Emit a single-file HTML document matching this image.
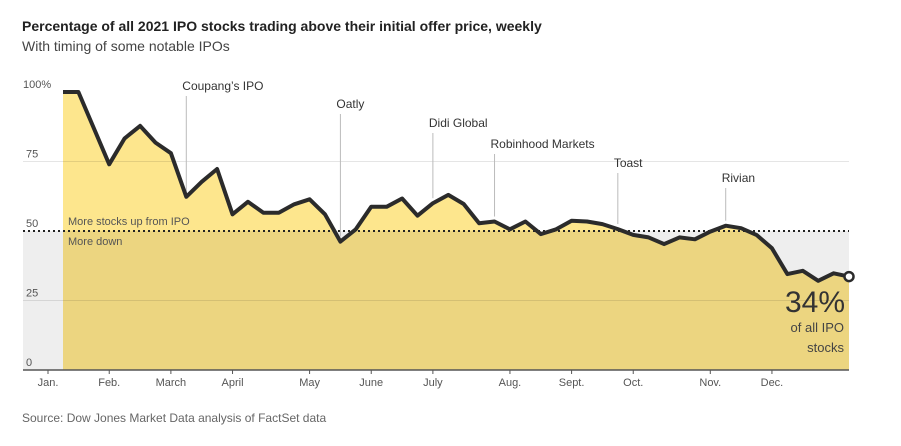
<!DOCTYPE html>
<html><head><meta charset="utf-8"><style>
body{margin:0;background:#fff;width:901px;height:446px;overflow:hidden;font-family:"Liberation Sans",sans-serif}
#t{position:absolute;left:22px;top:18px;font-size:14px;font-weight:bold;color:#222}
#s{position:absolute;left:22px;top:38px;font-size:14px;color:#444}
#src{position:absolute;left:22px;top:411px;font-size:12px;color:#666}
svg{position:absolute;left:0;top:0}
</style></head><body>
<div id="t">Percentage of all 2021 IPO stocks trading above their initial offer price, weekly</div>
<div id="s">With timing of some notable IPOs</div>
<div id="src">Source: Dow Jones Market Data analysis of FactSet data</div>
<svg id="c" width="901" height="446"></svg>
<script>
const values=[100,100,87,74,83.3,87.8,81.8,78,62.3,67.7,72.3,56,60.5,56.6,56.6,59.6,61.4,56,46.2,50.6,58.7,58.7,61.7,55.5,60,63,59.7,52.8,53.4,50.6,53.4,48.9,50.6,53.7,53.4,52.5,50.7,48.6,47.7,45.3,47.7,47,49.8,51.9,51,48.6,43.8,34.5,35.7,32.1,34.8,33.6];
const yTicks=[0,25,50,75,100];
const yTickLabels=["0","25","50","75","100%"];
const months=["Jan.","Feb.","March","April","May","June","July","Aug.","Sept.","Oct.","Nov.","Dec."];
const monthWeek=[-1,3,7,11,16,20,24,29,33,37,42,46];
const notes=["Coupang’s IPO","Oatly","Didi Global","Robinhood Markets","Toast","Rivian"];
const noteWeek=[8,18,24,28,36,43];
const noteTop=[96,114,133,154,173,188];
const svg=document.getElementById('c');
const NS='http://www.w3.org/2000/svg';
const X=i=>63+i*(786/51);
const Y=v=>370-v*2.78;
function el(tag,attrs,parent){const e=document.createElementNS(NS,tag);for(const k in attrs)e.setAttribute(k,attrs[k]);(parent||svg).appendChild(e);return e;}
const defs=el('defs',{});
const c1=el('clipPath',{id:'above'},defs);el('rect',{x:0,y:0,width:901,height:Y(50)},c1);
const c2=el('clipPath',{id:'below'},defs);el('rect',{x:0,y:Y(50),width:901,height:446},c2);
let g=el('rect',{x:23,y:Y(50),width:X(51)-23,height:Y(0)-Y(50),fill:'#eeeeee'});

let pts=values.map((v,i)=>X(i).toFixed(1)+','+Y(v).toFixed(1));
let area='M'+X(0)+','+Y(0)+' L'+pts.join(' L')+' L'+X(values.length-1)+','+Y(0)+'Z';
let a1=el('path',{d:area,fill:'#fde68d','clip-path':'url(#above)'});

let a2=el('path',{d:area,fill:'#ecd580','clip-path':'url(#below)'});

yTicks.forEach((t,i)=>{
  if(t===25||t===75){const l=el('line',{x1:23,x2:X(51),y1:Y(t),y2:Y(t),stroke:'#000','stroke-opacity':0.1,'stroke-width':1});
  }
  const tx=el('text',{x:t===100?23:26,y:Y(t)-4,'font-size':11,fill:'#555'});tx.textContent=yTickLabels[i];
  
});
let d=el('line',{x1:23,x2:X(51),y1:Y(50),y2:Y(50),stroke:'#222','stroke-width':2,'stroke-dasharray':'2,3'});

let t1=el('text',{x:68,y:Y(50)-6,'font-size':11,fill:'#555'});t1.textContent='More stocks up from IPO';

let t2=el('text',{x:68,y:Y(50)+14,'font-size':11,fill:'#555'});t2.textContent='More down';

notes.forEach((n,i)=>{
  const x=X(noteWeek[i]);
  const l=el('line',{x1:x,x2:x,y1:noteTop[i],y2:Y(values[noteWeek[i]])-5,stroke:'#bbb','stroke-width':1});
  
  const tx=el('text',{x:x-4,y:noteTop[i]-6,'font-size':12,fill:'#333'});tx.textContent=n;
  
});
let line=el('polyline',{points:pts.join(' '),fill:'none',stroke:'#2b2b2b','stroke-width':4,'stroke-linejoin':'round'});

let last=values.length-1;
let dot=el('circle',{cx:X(last),cy:Y(values[last]),r:4.5,fill:'#fff',stroke:'#2b2b2b','stroke-width':2.5});

let ax=el('line',{x1:23,x2:X(51),y1:Y(0),y2:Y(0),stroke:'#555','stroke-width':1.5});

months.forEach((m,i)=>{
  const x=monthWeek[i]<0?48:X(monthWeek[i]);
  const tk=el('line',{x1:x,x2:x,y1:Y(0),y2:Y(0)+4,stroke:'#555'});
  
  const tx=el('text',{x:x,y:Y(0)+16,'font-size':11,fill:'#555','text-anchor':'middle'});tx.textContent=m;
  
});
let big=el('text',{x:845,y:312,'font-size':30,fill:'#333','text-anchor':'end'});big.textContent=values[last].toFixed(0)+'%';

let s1=el('text',{x:844,y:332,'font-size':13,fill:'#444','text-anchor':'end'});s1.textContent='of all IPO';

let s2=el('text',{x:844,y:352,'font-size':13,fill:'#444','text-anchor':'end'});s2.textContent='stocks';

</script>
</body></html>
